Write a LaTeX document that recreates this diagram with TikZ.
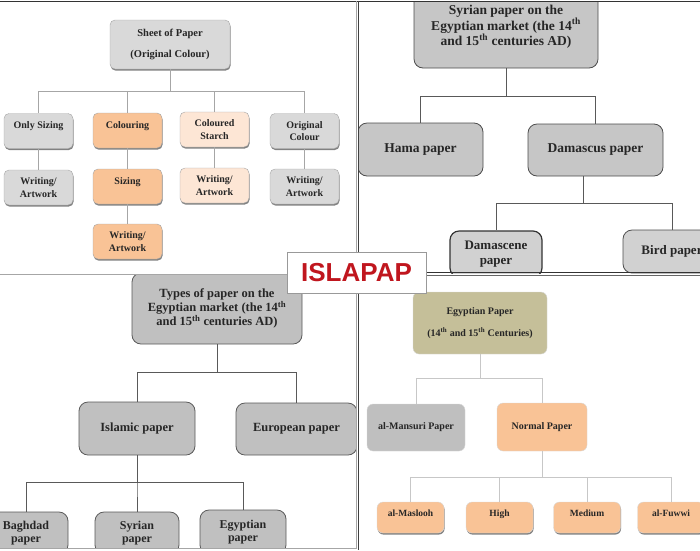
\documentclass[tikz,border=0pt]{standalone}
\usepackage{fontspec}
\setmainfont{Liberation Serif}
\newfontfamily\logofont{Liberation Sans}
\usetikzlibrary{shadows}

\definecolor{boxgray}{HTML}{D9D9D9}
\definecolor{linegray}{HTML}{A6A6A6}
\definecolor{peach}{HTML}{F9C396}
\definecolor{lightpeach}{HTML}{FDE6D5}
\definecolor{syrgray}{HTML}{C6C6C6}
\definecolor{typegray}{HTML}{C0C0C0}
\definecolor{mansurigray}{HTML}{BFBFBF}
\definecolor{khaki}{HTML}{C5BF99}
\definecolor{logored}{HTML}{C0161E}

\tikzset{
  box/.style={rounded corners=5pt, align=center, inner sep=1pt, text=black!85},
  shade/.style={drop shadow={shadow xshift=.6pt, shadow yshift=-1.6pt, fill=black!70, opacity=.7}},
  % top left panel
  tlbox/.style={box, draw=linegray, shade, minimum width=69pt, minimum height=35pt,
    font=\bfseries\fontsize{10}{12.5}\selectfont},
  tlgray/.style={tlbox, fill=boxgray},
  tlpeach/.style={tlbox, fill=peach},
  tllight/.style={tlbox, fill=lightpeach},
  raised/.style={text depth=11pt},
  tlline/.style={draw=linegray, line width=.8pt},
  % top right panel
  syrbox/.style={box, rounded corners=9pt, draw=black!70, line width=.8pt, fill=syrgray,
    font=\bfseries\fontsize{13.5}{14.5}\selectfont},
  syrline/.style={draw=black!65, line width=.8pt},
  % bottom left panel
  typebox/.style={box, rounded corners=9pt, draw=black!65, line width=.8pt, fill=typegray,
    font=\bfseries\fontsize{12.5}{14}\selectfont},
  % bottom right panel
  egbox/.style={box, rounded corners=6pt, draw=black!15, font=\bfseries\fontsize{10}{12}\selectfont},
  leaf/.style={egbox, fill=peach, shade, minimum width=67pt, minimum height=31pt, text depth=9pt,
    font=\bfseries\fontsize{9.5}{11}\selectfont},
  egline/.style={draw=black!22, line width=.9pt},
  logo/.style={draw=black!40, fill=white, line width=.8pt, minimum width=139pt, minimum height=41pt,
    inner sep=0pt, text=logored, font=\logofont\bfseries\fontsize{26}{30}\selectfont}
}

\begin{document}
\begin{tikzpicture}[x=1pt,y=-1pt]
\useasboundingbox (0,0) rectangle (700,550);

% Sheet of paper
\begin{scope}
\clip (0,1) rectangle (356,274);
\node[tlgray, minimum width=120pt, minimum height=49pt, font=\bfseries\fontsize{10.5}{12.5}\selectfont]
  (sheet) at (170,44.5) {Sheet of Paper\\[8pt](Original Colour)};
\node[tlgray, raised] (only) at (38.5,131) {Only Sizing};
\node[tlpeach, raised] (colouring) at (127.5,130.5) {Colouring};
\node[tllight] (starch) at (214.5,129.5) {Coloured\\Starch};
\node[tlgray] (original) at (304.5,131) {Original\\Colour};
\node[tlgray] (artonly) at (38.5,187.5) {Writing/\\Artwork};
\node[tlpeach, raised] (sizing) at (127.5,186.5) {Sizing};
\node[tllight] (artstarch) at (214.5,185.5) {Writing/\\Artwork};
\node[tlgray] (artoriginal) at (304.5,186.5) {Writing/\\Artwork};
\node[tlpeach] (artcolour) at (127.5,241.5) {Writing/\\Artwork};

\foreach \child in {only,colouring,starch,original}{
  \draw[tlline] (sheet.south) -- ++(0,22) -| (\child.north);
}
\draw[tlline] (only.south) -- (artonly.north);
\draw[tlline] (colouring.south) -- (sizing.north);
\draw[tlline] (sizing.south) -- (artcolour.north);
\draw[tlline] (starch.south) -- (artstarch.north);
\draw[tlline] (original.south) -- (artoriginal.north);
\end{scope}

% Syrian paper
\begin{scope}
\clip (358,1) rectangle (700,273);
\node[syrbox, minimum width=184pt, minimum height=82pt] (syrian) at (506,27)
  {Syrian paper on the\\Egyptian market (the 14\textsuperscript{th}\\and 15\textsuperscript{th} centuries AD)};
\node[syrbox, minimum width=125pt, minimum height=53pt] (hama) at (420.5,149.5) {Hama paper};
\node[syrbox, minimum width=135pt, minimum height=52pt] (damascus) at (595.5,150) {Damascus paper};
\node[syrbox, draw=black!80, line width=1.2pt, fill=syrgray!80, minimum width=92pt, minimum height=46pt,
  font=\bfseries\fontsize{13}{15}\selectfont] (damascene) at (496,254) {Damascene\\paper};
\node[syrbox, draw=black!70, fill=syrgray!80, minimum width=98pt, minimum height=43pt,
  font=\bfseries\fontsize{13}{15}\selectfont] (bird) at (672,251.5) {Bird paper};

\foreach \child in {hama,damascus}{
  \draw[syrline] (syrian.south) -- ++(0,28) -| (\child.north);
}
\foreach \child in {damascene,bird}{
  \draw[syrline] ([xshift=-12.5pt]damascus.south) -- ++(0,27) -| (\child.north);
}
\end{scope}

% Types of paper
\begin{scope}
\clip (0,275) rectangle (356,548);
\node[typebox, minimum width=170pt, minimum height=71pt] (types) at (217,308.5)
  {Types of paper on the\\Egyptian market (the 14\textsuperscript{th}\\and 15\textsuperscript{th} centuries AD)};
\node[typebox, minimum width=116pt, minimum height=53pt] (islamic) at (137,428.5) {Islamic paper};
\node[typebox, minimum width=121pt, minimum height=52pt] (european) at (296.5,429) {European paper};
\node[typebox, minimum width=84pt, minimum height=42pt, font=\bfseries\fontsize{12}{13}\selectfont]
  (baghdad) at (26,533) {Baghdad\\paper};
\node[typebox, minimum width=84pt, minimum height=42pt, font=\bfseries\fontsize{12}{13}\selectfont]
  (syr) at (137,533) {Syrian\\paper};
\node[typebox, minimum width=86pt, minimum height=44pt, font=\bfseries\fontsize{12}{13}\selectfont]
  (egy) at (243,532) {Egyptian\\paper};

\foreach \child in {islamic,european}{
  \draw[syrline] (types.south) -- ++(0,28) -| (\child.north);
}
\foreach \child in {baghdad,syr,egy}{
  \draw[syrline] (islamic.south) -- ++(0,27) -| (\child.north);
}
\end{scope}

% Egyptian paper
\begin{scope}
\clip (358,274) rectangle (700,550);
\node[egbox, fill=khaki, minimum width=134pt, minimum height=62pt] (egyptian) at (480,323)
  {Egyptian Paper\\[10pt](14\textsuperscript{th} and 15\textsuperscript{th} Centuries)};
\node[egbox, fill=mansurigray, minimum width=98pt, minimum height=47pt] (mansuri) at (416,427.5) {al-Mansuri Paper};
\node[egbox, fill=peach, minimum width=90pt, minimum height=48pt] (normal) at (542,427) {Normal Paper};
\node[leaf] (maslooh) at (410.5,517.5) {al-Maslooh};
\node[leaf] (high) at (499.5,517.5) {High};
\node[leaf] (medium) at (587,517.5) {Medium};
\node[leaf] (fuwwi) at (671,517.5) {al-Fuwwi};

\foreach \child in {mansuri,normal}{
  \draw[egline] (egyptian.south) -- ++(0,24) -| (\child.north);
}
\foreach \child in {maslooh,high,medium,fuwwi}{
  \draw[egline] (normal.south) -- ++(0,26) -| (\child.north);
}
\end{scope}

% panel frames
\draw[black!80, line width=1pt] (0,1) -- (700,1);
\draw[linegray, line width=1.2pt] (0,274.5) -- (356,274.5);
\draw[linegray, line width=1pt] (356,1) -- (356,548) -- (0,548);
\draw[black!75, line width=1pt] (358,1) -- (358,550);
\draw[black!80, line width=1pt] (358,272.5) -- (700,272.5);
\draw[black!60, line width=.8pt] (358,275.5) -- (700,275.5);

\node[logo] (islapap) at (356.5,272.5) {ISLAPAP};
\end{tikzpicture}
\end{document}
